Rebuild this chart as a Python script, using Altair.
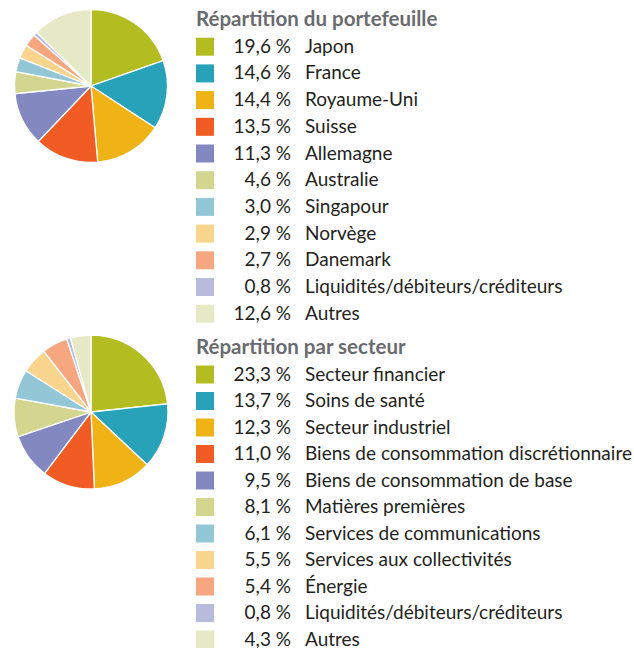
import altair as alt
import pandas as pd

# ---- data ----
title_pays = "Répartition du portefeuille"
pays = ["Japon", "France", "Royaume-Uni", "Suisse", "Allemagne", "Australie",
        "Singapour", "Norvège", "Danemark", "Liquidités/débiteurs/créditeurs", "Autres"]
pays_pct = [19.6, 14.6, 14.4, 13.5, 11.3, 4.6, 3.0, 2.9, 2.7, 0.8, 12.6]

title_secteur = "Répartition par secteur"
secteurs = ["Secteur financier", "Soins de santé", "Secteur industriel",
            "Biens de consommation discrétionnaire", "Biens de consommation de base",
            "Matières premières", "Services de communications", "Services aux collectivités",
            "Énergie", "Liquidités/débiteurs/créditeurs", "Autres"]
secteur_pct = [23.3, 13.7, 12.3, 11.0, 9.5, 8.1, 6.1, 5.5, 5.4, 0.8, 4.3]

palette = ["#b3bd21", "#27a2b9", "#f0b316", "#f15b24", "#8488c1", "#d2d68f",
           "#93c7d6", "#f8d48d", "#f6a77f", "#b9bbdd", "#e6e9c6"]

FONT = "Lato"
FS = 19
FS_HEAD = 20.5
TEXT_COLOR = "#231f20"
HEAD_COLOR = "#6a6b6e"


def fmt(v):
    return f"{v:.1f}".replace(".", ",") + " %"


def make_row(title, labels, values, pie_h, panel_h, head_y, step, radius):
    df = pd.DataFrame({
        "label": labels,
        "value": values,
        "txt": [fmt(v) for v in values],
        "order": list(range(len(labels))),
        "row": [i + 1 for i in range(len(labels))],
    })
    color = alt.Color("label:N", scale=alt.Scale(domain=labels, range=palette), legend=None)

    pie = alt.Chart(df).mark_arc(outerRadius=radius, stroke="white", strokeWidth=1.3).encode(
        theta=alt.Theta("value:Q", stack=True),
        color=color,
        order=alt.Order("order:Q", sort="ascending"),
    ).properties(width=182, height=pie_h)

    d0 = -head_y / step
    d1 = d0 + panel_h / step
    yscale = alt.Scale(domain=[d0, d1], reverse=True)
    y = alt.Y("row:Q", scale=yscale, axis=None)

    squares = alt.Chart(df).mark_square(size=324, opacity=1).encode(
        x=alt.value(23), y=y, color=color
    )
    nums = alt.Chart(df).mark_text(align="right", baseline="middle", font=FONT,
                                   fontSize=FS, color=TEXT_COLOR).encode(
        x=alt.value(109), y=y, text="txt:N"
    )
    labs = alt.Chart(df).mark_text(align="left", baseline="middle", font=FONT,
                                   fontSize=FS, color=TEXT_COLOR).encode(
        x=alt.value(123), y=y, text="label:N"
    )
    head_df = pd.DataFrame({"row": [0], "t": [title]})
    head = alt.Chart(head_df).mark_text(align="left", baseline="middle", font=FONT,
                                        fontSize=FS_HEAD, fontWeight="bold", color=HEAD_COLOR).encode(
        x=alt.value(14), y=y, text="t:N"
    )
    legend = alt.layer(squares, nums, labs, head).properties(width=440, height=panel_h)
    return alt.hconcat(pie, legend, spacing=0)


row1 = make_row(title_pays, pays, pays_pct, pie_h=172, panel_h=327, head_y=20, step=26.7, radius=76.5)
row2 = make_row(title_secteur, secteurs, secteur_pct, pie_h=170, panel_h=318, head_y=21, step=26.5, radius=77)

chart = alt.vconcat(row1, row2, spacing=0).resolve_scale(color="independent").properties(
    padding=0, background="white"
).configure_view(stroke=None).configure_concat(spacing=0)

chart.save("out.html", embed_options={"renderer": "svg", "actions": False})
